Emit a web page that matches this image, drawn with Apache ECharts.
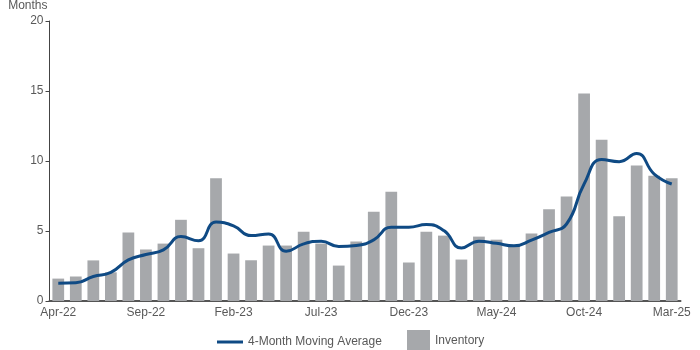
<!DOCTYPE html>
<html>
<head>
<meta charset="utf-8">
<script src="https://cdn.jsdelivr.net/npm/echarts@6/dist/echarts.min.js"></script>
<style>html,body{margin:0;padding:0;background:#fff}#c{width:700px;height:350px}</style>
</head>
<body>
<div id="c"></div>
<script>
var categories = ["Apr-22","May-22","Jun-22","Jul-22","Aug-22","Sep-22","Oct-22","Nov-22","Dec-22","Jan-23","Feb-23","Mar-23","Apr-23","May-23","Jun-23","Jul-23","Aug-23","Sep-23","Oct-23","Nov-23","Dec-23","Jan-24","Feb-24","Mar-24","Apr-24","May-24","Jun-24","Jul-24","Aug-24","Sep-24","Oct-24","Nov-24","Dec-24","Jan-25","Feb-25","Mar-25"];
var inventory = [1.6,1.75,2.9,2.05,4.9,3.68,4.1,5.8,3.77,8.76,3.39,2.91,3.96,3.96,4.95,4.1,2.53,4.25,6.38,7.8,2.75,4.95,4.67,2.96,4.6,4.38,4.0,4.82,6.55,7.47,14.82,11.52,6.05,9.67,8.95,8.76];
var movingAvg = [1.27,1.3,1.75,2.05,2.94,3.32,3.65,4.6,4.3,5.64,5.36,4.67,4.79,3.55,4.08,4.27,3.89,3.96,4.37,5.27,5.27,5.46,5.03,3.79,4.27,4.12,3.94,4.35,4.9,5.5,8.36,10.1,9.95,10.54,9.07,8.36];
var yTicks = {min: 0, max: 20, interval: 5};

var chart = echarts.init(document.getElementById('c'), null, {renderer: 'canvas'});
var txt = '#595959';
var font = 'Liberation Sans, Arial, sans-serif';
chart.setOption({
  animation: false,
  textStyle: {fontFamily: font},
  grid: {left: 49.5, right: 19.5, top: 20, bottom: 49, containLabel: false},
  legend: [
    {
      left: 217, top: 334, padding: [2, 0, 0, 0],
      itemWidth: 26, itemHeight: 3,
      textStyle: {color: txt, fontSize: 12, fontFamily: font},
      data: [{name: '4-Month Moving Average', icon: 'path://M0,0H26V3H0Z'}]
    },
    {
      left: 407, top: 330, padding: 0,
      itemWidth: 23, itemHeight: 21,
      textStyle: {color: txt, fontSize: 12, fontFamily: font},
      data: [{name: 'Inventory', icon: 'rect'}]
    }
  ],
  xAxis: {
    type: 'category',
    data: categories,
    boundaryGap: true,
    axisLine: {lineStyle: {color: '#555', width: 2}},
    axisTick: {alignWithLabel: true, interval: 0, length: 4, lineStyle: {color: '#555'}},
    axisLabel: {interval: 4, color: txt, fontSize: 12, margin: 6}
  },
  yAxis: {
    type: 'value',
    min: yTicks.min, max: yTicks.max, interval: yTicks.interval,
    name: 'Months',
    nameLocation: 'end',
    nameGap: 9,
    nameTextStyle: {color: txt, fontSize: 12, align: 'right', padding: [0, 2, 0, 0]},
    axisLine: {show: true, lineStyle: {color: '#444', width: 1}},
    axisTick: {show: true, length: 4, lineStyle: {color: '#444'}},
    axisLabel: {color: txt, fontSize: 12, margin: 6},
    splitLine: {show: false}
  },
  series: [
    {
      name: 'Inventory', type: 'bar', data: inventory,
      barWidth: '67%',
      itemStyle: {color: '#a6a8ab'},
      z: 1
    },
    {
      name: '4-Month Moving Average', type: 'line', data: movingAvg,
      smooth: 0.5, symbol: 'none',
      lineStyle: {color: '#0f4a84', width: 3},
      itemStyle: {color: '#0f4a84'},
      z: 3
    }
  ]
});
</script>
</body>
</html>
